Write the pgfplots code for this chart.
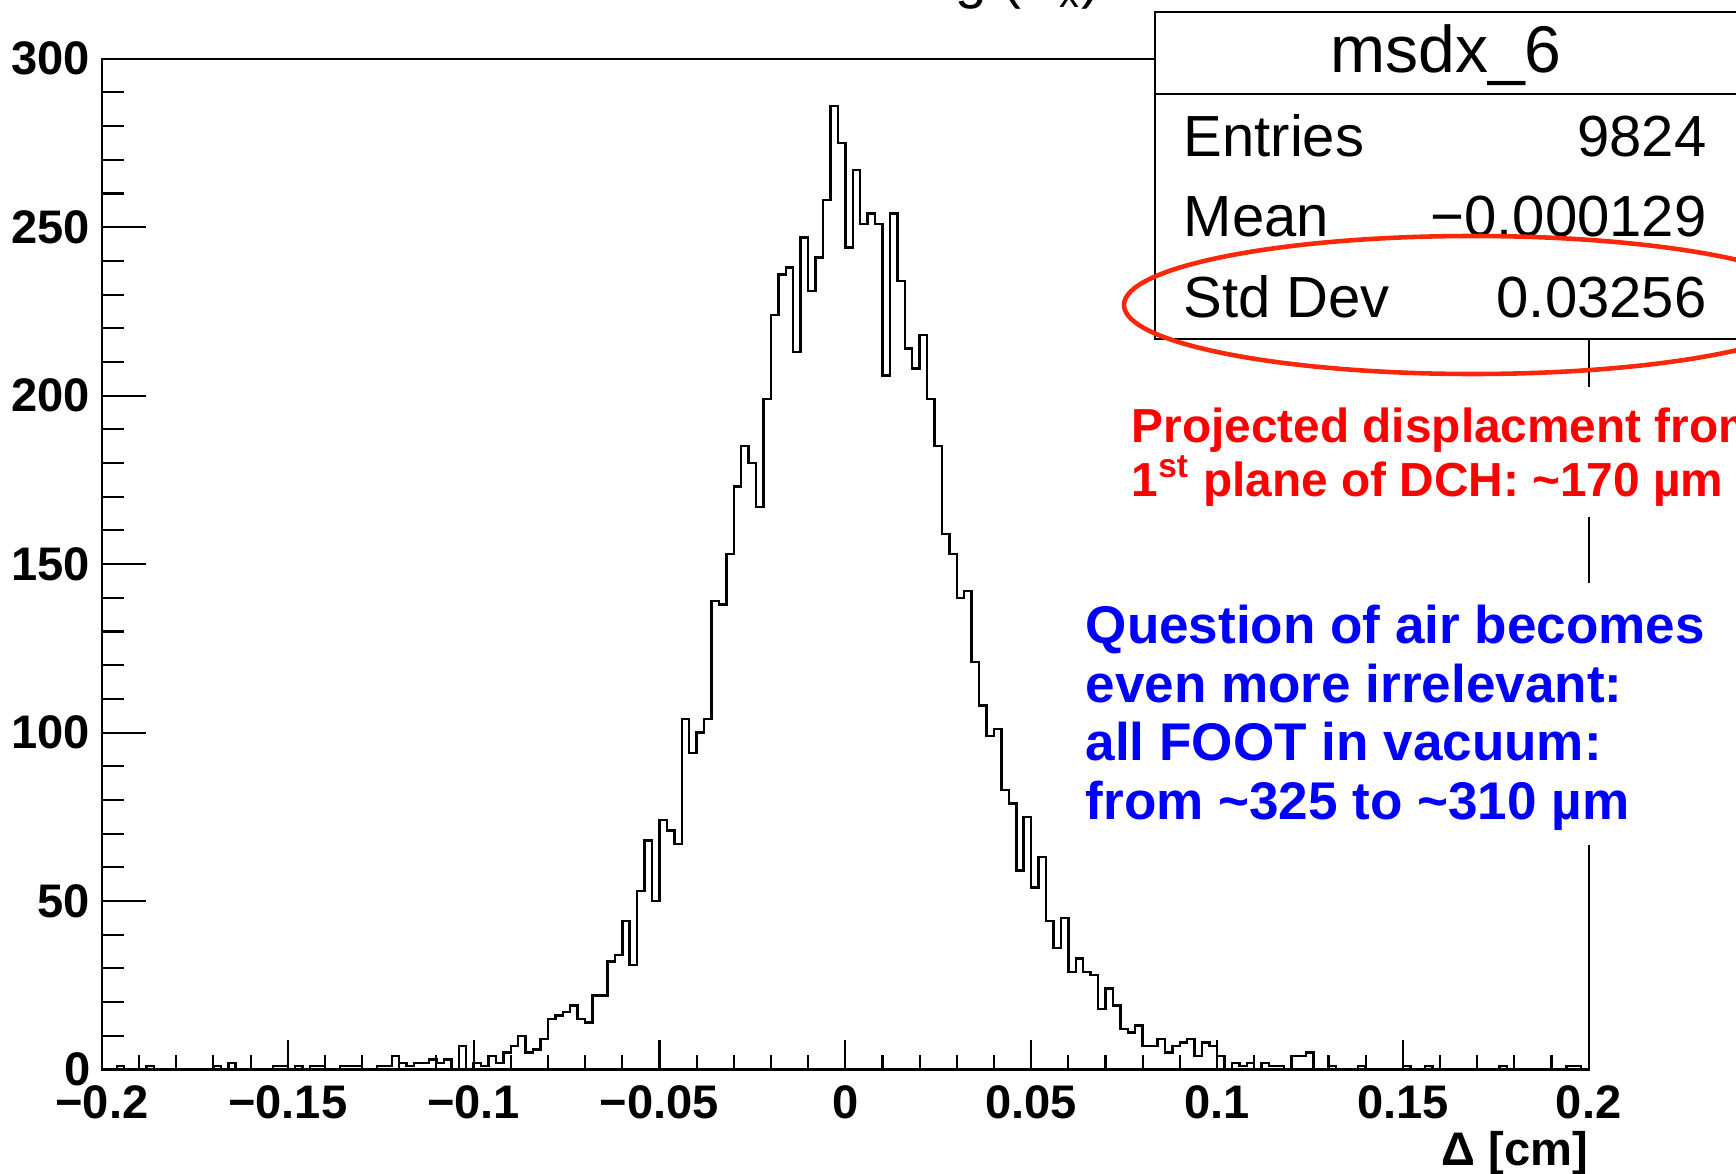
\documentclass[border=0pt]{standalone}
\usepackage{pgfplots}
\pgfplotsset{compat=1.18}
\usepackage{fontspec}
\setmainfont{Liberation Sans}
\definecolor{ellred}{RGB}{250,40,10}
\newcommand{\tickfont}{\fontsize{13.4}{16}\selectfont\bfseries}
\newcommand{\statfont}{\fontsize{16.5}{19}\selectfont}
\newcommand{\redfont}{\fontsize{13.6}{16}\selectfont\bfseries}
\newcommand{\bluefont}{\fontsize{15.1}{18}\selectfont\bfseries}
\begin{document}
\begin{tikzpicture}[x=0.1mm,y=0.1mm]
\useasboundingbox (0,0) rectangle (1736,1173);
\clip (0,0) rectangle (1736,1173);
% main axis: histogram, frame, x ticks
\begin{axis}[
  at={(10.19mm,10.35mm)}, anchor=south west,
  width=148.68mm, height=101.08mm, scale only axis,
  xmin=-0.2, xmax=0.2, ymin=0, ymax=300,
  xtick={-0.2,-0.15,-0.1,-0.05,0,0.05,0.1,0.15,0.2},
  xticklabels={−0.2,−0.15,−0.1,−0.05,0,0.05,0.1,0.15,0.2},
  minor x tick num=4,
  ytick=\empty,
  tick pos=left, tick align=inside,
  major tick length=3mm, minor tick length=1.5mm,
  tick style={black, line width=0.6pt},
  axis line style={line width=0.6pt},
  xticklabel style={anchor=base, inner sep=0pt, yshift=-4.85mm, font=\tickfont},
  xlabel={Δ [cm]},
  xlabel style={at={(axis description cs:1,0)}, anchor=base east, inner sep=0pt, yshift=-9.6mm, font=\tickfont},
]
\addplot[const plot, black, line width=0.7pt, mark=none] table {
x y
-0.200 0
-0.198 0
-0.196 1
-0.194 0
-0.192 0
-0.190 0
-0.188 1
-0.186 0
-0.184 0
-0.182 0
-0.180 0
-0.178 0
-0.176 0
-0.174 0
-0.172 0
-0.170 1
-0.168 0
-0.166 2
-0.164 0
-0.162 0
-0.160 0
-0.158 0
-0.156 0
-0.154 1
-0.152 1
-0.150 0
-0.148 1
-0.146 0
-0.144 1
-0.142 1
-0.140 0
-0.138 0
-0.136 1
-0.134 1
-0.132 1
-0.130 0
-0.128 0
-0.126 1
-0.124 1
-0.122 4
-0.120 2
-0.118 1
-0.116 2
-0.114 2
-0.112 3
-0.110 2
-0.108 3
-0.106 0
-0.104 7
-0.102 0
-0.100 2
-0.098 1
-0.096 4
-0.094 2
-0.092 5
-0.090 7
-0.088 10
-0.086 5
-0.084 6
-0.082 9
-0.080 15
-0.078 16
-0.076 17
-0.074 19
-0.072 15
-0.070 14
-0.068 22
-0.066 22
-0.064 32
-0.062 34
-0.060 44
-0.058 31
-0.056 53
-0.054 68
-0.052 50
-0.050 74
-0.048 71
-0.046 67
-0.044 104
-0.042 94
-0.040 100
-0.038 104
-0.036 139
-0.034 138
-0.032 153
-0.030 173
-0.028 185
-0.026 180
-0.024 167
-0.022 199
-0.020 224
-0.018 236
-0.016 238
-0.014 213
-0.012 247
-0.010 231
-0.008 241
-0.006 258
-0.004 286
-0.002 275
0.000 244
0.002 267
0.004 251
0.006 254
0.008 251
0.010 206
0.012 254
0.014 234
0.016 214
0.018 208
0.020 218
0.022 199
0.024 185
0.026 159
0.028 153
0.030 140
0.032 142
0.034 121
0.036 108
0.038 99
0.040 101
0.042 83
0.044 79
0.046 59
0.048 75
0.050 54
0.052 63
0.054 44
0.056 36
0.058 45
0.060 29
0.062 33
0.064 29
0.066 28
0.068 18
0.070 24
0.072 19
0.074 12
0.076 11
0.078 13
0.080 7
0.082 7
0.084 9
0.086 5
0.088 7
0.090 8
0.092 9
0.094 4
0.096 8
0.098 7
0.100 4
0.102 0
0.104 2
0.106 1
0.108 2
0.110 0
0.112 2
0.114 1
0.116 1
0.118 0
0.120 4
0.122 4
0.124 5
0.126 0
0.128 0
0.130 1
0.132 0
0.134 0
0.136 0
0.138 1
0.140 0
0.142 0
0.144 0
0.146 0
0.148 0
0.150 1
0.152 0
0.154 0
0.156 1
0.158 0
0.160 0
0.162 0
0.164 0
0.166 0
0.168 0
0.170 0
0.172 0
0.174 0
0.176 1
0.178 0
0.180 0
0.182 0
0.184 0
0.186 0
0.188 0
0.190 0
0.192 0
0.194 1
0.196 1
0.198 0
0.200 0
};
\end{axis}
% second axis: y ticks with longer tick marks
\begin{axis}[
  at={(10.19mm,10.35mm)}, anchor=south west,
  width=148.68mm, height=101.08mm, scale only axis,
  xmin=-0.2, xmax=0.2, ymin=0, ymax=300,
  axis line style={draw=none},
  xtick=\empty,
  ytick={0,50,100,150,200,250,300},
  yticklabels={0,50,100,150,200,250,300},
  minor y tick num=4,
  tick pos=left, tick align=inside,
  major tick length=4.4mm, minor tick length=2.2mm,
  tick style={black, line width=0.6pt},
  yticklabel style={anchor=east, inner sep=0pt, xshift=-1.1mm, font=\tickfont},
]
\end{axis}
% title (cut at the top edge)
\node[anchor=base east, inner sep=0pt] at (1101,1175) {\fontsize{16.2}{19}\selectfont Smearing (Δ\textsubscript{x})};
% stats box
\fill[white] (1155,834) rectangle (1740,1161);
\draw[line width=0.6pt] (1155,834) rectangle (1740,1161);
\draw[line width=0.6pt] (1155,1079) -- (1740,1079);
\node[anchor=base, inner sep=0pt] at (1446,1100) {\fontsize{18.8}{22}\selectfont msdx\_6};
\node[anchor=base west, inner sep=0pt] at (1183,1016) {\statfont Entries};
\node[anchor=base east, inner sep=0pt] at (1707,1016) {\statfont 9824};
\node[anchor=base west, inner sep=0pt] at (1183,936) {\statfont Mean};
\node[anchor=base east, inner sep=0pt] at (1707,936) {\statfont −0.000129};
\node[anchor=base west, inner sep=0pt] at (1183,855) {\statfont Std Dev};
\node[anchor=base east, inner sep=0pt] at (1707,855) {\statfont 0.03256};
% red ellipse
\draw[ellred, line width=1.3pt] (1473,868) ellipse [x radius=349, y radius=69];
% red annotation
\fill[white] (1120,656) rectangle (1740,786);
\node[anchor=base west, inner sep=0pt, text=red] at (1131,730) {\redfont Projected displacment from};
\node[anchor=base west, inner sep=0pt, text=red] at (1131,677) {\redfont 1\textsuperscript{st} plane of DCH: \textasciitilde170 µm};
% blue annotation
\fill[white] (1075,328) rectangle (1740,590);
\node[anchor=base west, inner sep=0pt, text=blue] at (1085,530) {\bluefont Question of air becomes};
\node[anchor=base west, inner sep=0pt, text=blue] at (1085,471) {\bluefont even more irrelevant:};
\node[anchor=base west, inner sep=0pt, text=blue] at (1085,413) {\bluefont all FOOT in vacuum:};
\node[anchor=base west, inner sep=0pt, text=blue] at (1085,354) {\bluefont from \textasciitilde325 to \textasciitilde310 µm};
\end{tikzpicture}
\end{document}
